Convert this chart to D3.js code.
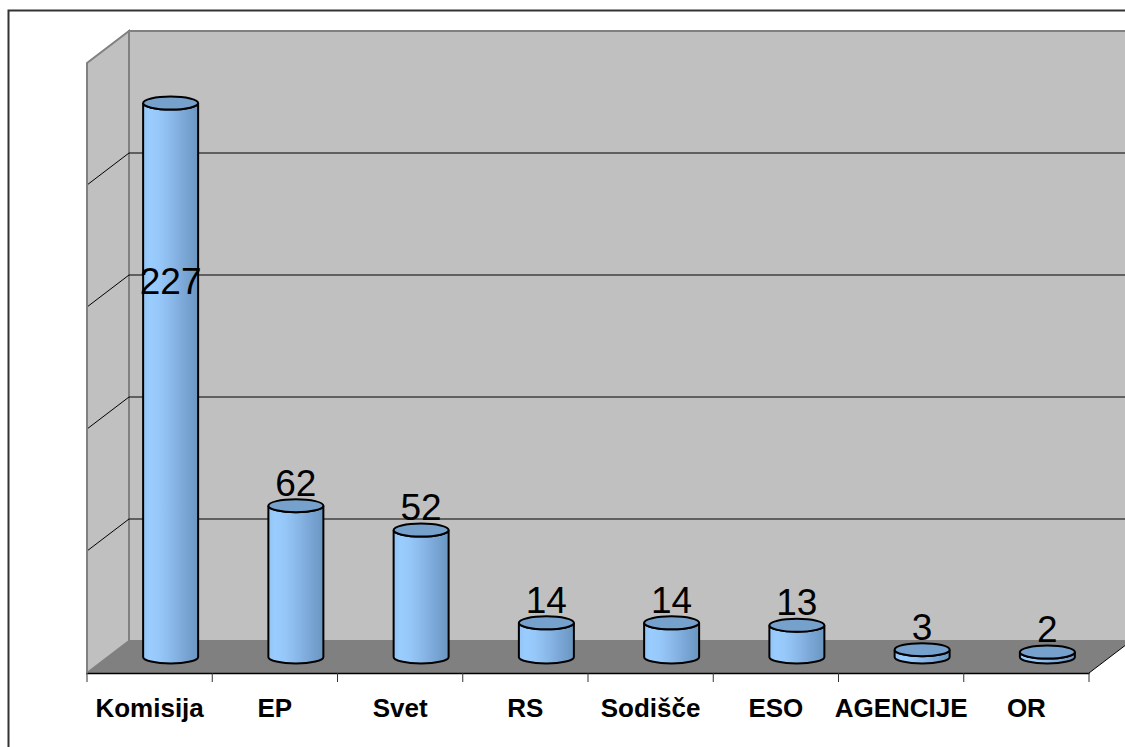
<!DOCTYPE html>
<html>
<head>
<meta charset="utf-8">
<script src="https://cdn.jsdelivr.net/npm/d3@7"></script>
<style>
  body { margin: 0; background: #fff; }
  text { font-family: "Liberation Sans", Arial, sans-serif; }
</style>
</head>
<body>
<div id="chart"></div>
<script>
// Data
var categories = ["Komisija", "EP", "Svet", "RS", "Sodišče", "ESO", "AGENCIJE", "OR"];
var values = [227, 62, 52, 14, 14, 13, 3, 2];
var yTicks = [0, 50, 100, 150, 200, 250];

var w = 1125, h = 747;

var svg = d3.select("#chart")
			.append("svg")
			.attr("width", w)
			.attr("height", h);

// 3D offsets: wall is at full depth, bars sit at half depth
var depthX = 42, depthY = -32;

// Scales for the front edge of the floor
var x = d3.scaleBand()
		.domain(categories)
		.range([87, 1089])
		.padding(0);

var y = d3.scaleLinear()
		.domain([0, 250])
		.range([673, 63]);

var barRx = 27.5, barRy = 6.5;

// Gradient for the cylinders
var defs = svg.append("defs");
var grad = defs.append("linearGradient")
			.attr("id", "cyl")
			.attr("x1", "0%").attr("x2", "100%")
			.attr("y1", "0%").attr("y2", "0%");
[["0%", "#92c3f3"], ["12%", "#9acdff"], ["30%", "#96c7f9"], ["50%", "#8bbaea"],
 ["70%", "#7eaadb"], ["88%", "#729ecb"], ["100%", "#6b95c0"]].forEach(function(s) {
	grad.append("stop").attr("offset", s[0]).attr("stop-color", s[1]);
});

// Outer frame
svg.append("rect")
	.attr("x", 8.5).attr("y", 10.5)
	.attr("width", w + 20).attr("height", h + 20)
	.attr("fill", "none")
	.attr("stroke", "#333").attr("stroke-width", 2);

var x0 = x.range()[0], x1 = x.range()[1];

// Back wall
svg.append("rect")
	.attr("x", x0 + depthX).attr("y", y(250) + depthY)
	.attr("width", x1 - x0).attr("height", y(0) - y(250))
	.attr("fill", "#c0c0c0")
	.attr("stroke", "#808080").attr("stroke-width", 2);

// Side wall
svg.append("polygon")
	.attr("points", [[x0, y(250)], [x0 + depthX, y(250) + depthY], [x0 + depthX, y(0) + depthY], [x0, y(0)]].join(" "))
	.attr("fill", "#c0c0c0")
	.attr("stroke", "#808080").attr("stroke-width", 2);

// Gridlines on back wall and side wall
var inner = yTicks.filter(function(d) { return d > 0 && d < 250; });
var grid = svg.append("g");
grid.selectAll(".gb")
	.data(inner)
	.enter().append("line")
	.attr("x1", x0 + depthX).attr("x2", x1 + depthX)
	.attr("y1", function(d) { return y(d) + depthY; })
	.attr("y2", function(d) { return y(d) + depthY; })
	.attr("stroke", "#000").attr("stroke-width", 1);
grid.selectAll(".gs")
	.data(inner)
	.enter().append("line")
	.attr("x1", x0).attr("x2", x0 + depthX)
	.attr("y1", function(d) { return y(d); })
	.attr("y2", function(d) { return y(d) + depthY; })
	.attr("stroke", "#000").attr("stroke-width", 1);

// Floor
svg.append("polygon")
	.attr("points", [[x0, y(0)], [x1, y(0)], [x1 + depthX, y(0) + depthY], [x0 + depthX, y(0) + depthY]].join(" "))
	.attr("fill", "#808080")
	.attr("stroke", "none");
svg.append("line")
	.attr("x1", x1).attr("y1", y(0))
	.attr("x2", x1 + depthX).attr("y2", y(0) + depthY)
	.attr("stroke", "#000").attr("stroke-width", 1);
svg.append("line")
	.attr("x1", x0).attr("y1", y(0))
	.attr("x2", x0).attr("y2", y(250))
	.attr("stroke", "#808080").attr("stroke-width", 2);

// Category axis along the front edge
var xAxis = svg.append("g")
	.attr("transform", "translate(0," + y(0) + ")")
	.call(d3.axisBottom(x).tickSize(0).tickFormat(""));
xAxis.select(".domain").attr("stroke", "#000").attr("stroke-width", 1.3);
svg.selectAll(".xtick")
	.data(d3.range(categories.length + 1))
	.enter().append("line")
	.attr("x1", function(i) { return x0 + i * x.bandwidth(); })
	.attr("x2", function(i) { return x0 + i * x.bandwidth(); })
	.attr("y1", y(0)).attr("y2", y(0) + 9)
	.attr("stroke", "#333").attr("stroke-width", 1);

svg.selectAll(".cat")
	.data(categories)
	.enter().append("text")
	.attr("x", function(d) { return x(d) + x.bandwidth() / 2; })
	.attr("y", 717)
	.attr("text-anchor", "middle")
	.attr("font-size", "26px")
	.attr("font-weight", "bold")
	.attr("fill", "#000")
	.text(function(d) { return d; });

// Cylinders
var bars = svg.append("g");
var data = categories.map(function(c, i) { return {name: c, value: values[i]}; });

function cx(d) { return x(d.name) + x.bandwidth() / 2 + depthX / 2; }
function baseY() { return y(0) + depthY / 2; }
function topY(d) { return y(d.value) + depthY / 2; }

bars.selectAll(".body")
	.data(data)
	.enter().append("path")
	.attr("d", function(d) {
		var c = cx(d), t = topY(d), b = baseY();
		return "M" + (c - barRx) + "," + t +
			"L" + (c - barRx) + "," + b +
			"A" + barRx + "," + barRy + " 0 0,0 " + (c + barRx) + "," + b +
			"L" + (c + barRx) + "," + t +
			"A" + barRx + "," + barRy + " 0 0,1 " + (c - barRx) + "," + t + "Z";
	})
	.attr("fill", "url(#cyl)")
	.attr("stroke", "#000").attr("stroke-width", 2);

bars.selectAll(".top")
	.data(data)
	.enter().append("ellipse")
	.attr("cx", cx)
	.attr("cy", topY)
	.attr("rx", barRx).attr("ry", barRy)
	.attr("fill", "#76a1cd")
	.attr("stroke", "#000").attr("stroke-width", 2);

// Value labels (tall bar gets its label pulled down like the original)
bars.selectAll(".lbl")
	.data(data)
	.enter().append("text")
	.attr("x", cx)
	.attr("y", function(d) { return Math.max(topY(d) - 10, y(150) + depthY / 2 + 3); })
	.attr("text-anchor", "middle")
	.attr("font-size", "37px")
	.attr("fill", "#000")
	.text(function(d) { return d.value; });
</script>
</body>
</html>
